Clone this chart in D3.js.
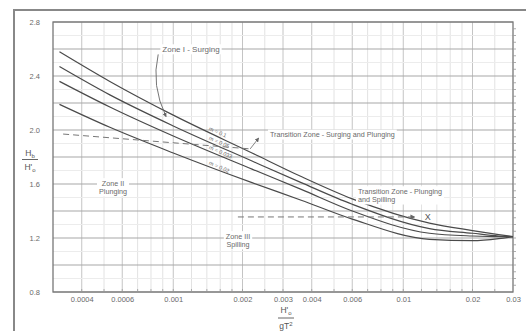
<!DOCTYPE html>
<html><head><meta charset="utf-8">
<script src="https://cdn.jsdelivr.net/npm/d3@7"></script>
<style>html,body{margin:0;padding:0;background:#fff;}svg{display:block;}</style>
</head><body>
<svg id="c" width="526" height="331"></svg>
<script>
// ---- data ----
const xTicks = [0.0004, 0.0006, 0.001, 0.002, 0.003, 0.004, 0.006, 0.01, 0.02, 0.03];
const xTickLabels = ["0.0004", "0.0006", "0.001", "0.002", "0.003", "0.004", "0.006", "0.01", "0.02", "0.03"];
const yTicks = [0.8, 1.2, 1.6, 2.0, 2.4, 2.8];
const yTickLabels = ["0.8", "1.2", "1.6", "2.0", "2.4", "2.8"];
const steepness = [0.00032, 0.00053, 0.001, 0.0022, 0.0036, 0.006, 0.013, 0.02, 0.026, 0.03];
const mLabels = ["m = 0.1", "m = 0.05", "m = 0.033", "m = 0.02"];
const index_m1 = [2.58, 2.36, 2.11, 1.83, 1.655, 1.49, 1.31, 1.255, 1.225, 1.21];
const index_m2 = [2.47, 2.26, 2.03, 1.77, 1.61, 1.45, 1.27, 1.235, 1.215, 1.21];
const index_m3 = [2.36, 2.17, 1.955, 1.71, 1.56, 1.40, 1.235, 1.215, 1.21, 1.21];
const index_m4 = [2.19, 2.02, 1.83, 1.61, 1.48, 1.34, 1.19, 1.18, 1.195, 1.21];
const series = [index_m1, index_m2, index_m3, index_m4];

const svg = d3.select("#c");
const W = 526, H = 331;
const x = d3.scaleLog().domain([0.0003, 0.03]).range([53, 513]);
const y = d3.scaleLinear().domain([0.8, 2.8]).range([292, 22]);
const font = "Liberation Sans, Arial, sans-serif";
const tcol = "#6a6a6a";

// outer scan frame
svg.append("path").attr("d", `M14,${H} L14,10 L${W},10`).attr("fill","none").attr("stroke","#888").attr("stroke-width",2);

// vertical grid (log)
const vGrid = [];
[0.0001, 0.001, 0.01].forEach(d => {
  [1,1.2,1.4,1.6,1.8,2,2.5,3,4,5,6,7,8,9].forEach(k => {
    const v = +(d*k).toPrecision(3);
    if (v > 0.0003 && v < 0.03) vGrid.push(v);
  });
});
svg.append("g").selectAll("line").data(vGrid).join("line")
  .attr("x1", d => x(d)).attr("x2", d => x(d)).attr("y1", y(2.8)).attr("y2", y(0.8))
  .attr("stroke", d => xTicks.includes(d) ? "#c4c4c4" : "#e2e2e2").attr("stroke-width", 1);

// horizontal grid
const hGrid = d3.range(0.8, 2.81, 0.2);
const hMinor = d3.range(0.9, 2.8, 0.2);
svg.append("g").selectAll("line").data(hMinor).join("line")
  .attr("x1", x(0.0003)).attr("x2", x(0.03)).attr("y1", d => y(d)).attr("y2", d => y(d))
  .attr("stroke", "#ececec").attr("stroke-width", 1);
svg.append("g").selectAll("line").data(hGrid).join("line")
  .attr("x1", x(0.0003)).attr("x2", x(0.03)).attr("y1", d => y(d)).attr("y2", d => y(d))
  .attr("stroke", "#a8a8a8").attr("stroke-width", 1.1);

// frame
svg.append("rect").attr("x", x(0.0003)).attr("y", y(2.8))
  .attr("width", x(0.03) - x(0.0003)).attr("height", y(0.8) - y(2.8))
  .attr("fill", "none").attr("stroke", "#777").attr("stroke-width", 1.3);

// right side ticks
svg.append("g").selectAll("line").data(d3.range(0.85, 2.8, 0.05)).join("line")
  .attr("x1", x(0.03)).attr("x2", x(0.03) + 3).attr("y1", d => y(d)).attr("y2", d => y(d))
  .attr("stroke", "#999").attr("stroke-width", 0.8);
// bottom minor ticks
svg.append("g").selectAll("line").data(vGrid).join("line")
  .attr("x1", d => x(d)).attr("x2", d => x(d)).attr("y1", y(0.8)).attr("y2", y(0.8) - 3)
  .attr("stroke", "#999").attr("stroke-width", 0.8);

// axes labels
const xa = d3.axisBottom(x).tickValues(xTicks).tickSize(0).tickFormat((d,i) => xTickLabels[i]);
const gx = svg.append("g").attr("transform", `translate(0,${y(0.8)})`).call(xa);
gx.select(".domain").remove();
gx.selectAll("text").attr("font-family", font).attr("font-size", 7.5).attr("fill", tcol).attr("dy", "0.9em");

const ya = d3.axisLeft(y).tickValues(yTicks).tickSize(0).tickFormat((d,i) => yTickLabels[i]);
const gy = svg.append("g").attr("transform", `translate(${x(0.0003) - 10},0)`).call(ya);
gy.select(".domain").remove();
gy.selectAll("text").attr("font-family", font).attr("font-size", 7.5).attr("fill", tcol).attr("dy", "0.32em");

// curves
const line = d3.line().x((d,i) => x(steepness[i])).y(d => y(d)).curve(d3.curveMonotoneX);
svg.append("g").selectAll("path").data(series).join("path")
  .attr("d", d => line(d)).attr("fill", "none").attr("stroke", "#4a4a4a").attr("stroke-width", 1.2);

// curve labels
const labX = 0.00118;
series.forEach((s, i) => {
  const yi = d3.scaleLog().domain(steepness).range(s);
  const px = x(labX) + 18, py = y(yi(labX * 1.2));
  svg.append("text").attr("x", px).attr("y", py - 2)
    .attr("transform", `rotate(24,${px},${py})`)
    .attr("font-family", font).attr("font-size", 5.5).attr("fill", tcol).text(mLabels[i]);
});

// helper: label with white background
function label(lines, cx, cy, size, anchor) {
  const g = svg.append("g");
  const t = g.append("text").attr("font-family", font).attr("font-size", size).attr("fill", tcol)
    .attr("text-anchor", anchor || "middle");
  lines.forEach((l, i) => t.append("tspan").attr("x", cx).attr("y", cy + i * size * 1.15).text(l));
  const b = t.node().getBBox();
  g.insert("rect", "text").attr("x", b.x - 2).attr("y", b.y - 0.5).attr("width", b.width + 4).attr("height", b.height + 1).attr("fill", "#fff");
}
label(["Zone I - Surging"], 191, y(2.6) + 2.8, 8);
label(["Transition Zone - Surging and Plunging"], 270, y(1.97) + 3, 7.2, "start");
label(["Zone II", "Plunging"], 113, y(1.61) + 3, 7.2);
label(["Transition Zone - Plunging", "and Spilling"], 358, y(1.55) + 3, 7.2, "start");
label(["Zone III", "Spilling"], 238, y(1.21) + 2, 7.2);

// transition boundary 1 (dashed) + arrow
svg.append("line").attr("x1", x(0.000332)).attr("y1", y(1.97)).attr("x2", x(0.00216)).attr("y2", y(1.86))
  .attr("stroke", "#777").attr("stroke-width", 1).attr("stroke-dasharray", "6,4");
svg.append("defs").append("marker").attr("id", "ah").attr("viewBox", "0 0 6 6").attr("refX", 5).attr("refY", 3)
  .attr("markerWidth", 5).attr("markerHeight", 5).attr("orient", "auto")
  .append("path").attr("d", "M0,0 L6,3 L0,6 Z").attr("fill", "#666");
svg.append("line").attr("x1", x(0.00216)).attr("y1", y(1.86)).attr("x2", x(0.00235)).attr("y2", y(1.94))
  .attr("stroke", "#777").attr("stroke-width", 0.9).attr("marker-end", "url(#ah)");

// transition boundary 2 (dashed) + X mark
svg.append("line").attr("x1", x(0.00191)).attr("y1", y(1.356)).attr("x2", x(0.0112)).attr("y2", y(1.356))
  .attr("stroke", "#777").attr("stroke-width", 1).attr("stroke-dasharray", "6,4").attr("marker-end", "url(#ah)");
svg.append("text").attr("x", x(0.0124)).attr("y", y(1.356) + 3).attr("font-family", font)
  .attr("font-size", 9).attr("fill", "#555").text("X");

// zone I arrow
const ap = d3.path();
ap.moveTo(x(0.00086), y(2.56));
ap.quadraticCurveTo(x(0.00080), y(2.33), x(0.00093), y(2.10));
svg.append("path").attr("d", ap.toString()).attr("fill", "none").attr("stroke", "#666").attr("stroke-width", 0.9)
  .attr("marker-end", "url(#ah)");

// y title (fraction)
const yt = svg.append("g").attr("font-family", font).attr("fill", "#555").attr("text-anchor", "middle");
yt.append("text").attr("x", 30).attr("y", 156).attr("font-size", 8.5).html('H<tspan font-size="6" dy="2">b</tspan>');
yt.append("line").attr("x1", 22).attr("x2", 38).attr("y1", 159.5).attr("y2", 159.5).attr("stroke", "#666");
yt.append("text").attr("x", 30).attr("y", 170).attr("font-size", 8.5).html("H'<tspan font-size=\"6\" dy=\"2\">o</tspan>");

// x title (fraction)
const xt = svg.append("g").attr("font-family", font).attr("fill", "#555").attr("text-anchor", "middle");
xt.append("text").attr("x", 286).attr("y", 313).attr("font-size", 8.5).html("H'<tspan font-size=\"6\" dy=\"2\">o</tspan>");
xt.append("line").attr("x1", 278).attr("x2", 294).attr("y1", 318).attr("y2", 318).attr("stroke", "#666");
xt.append("text").attr("x", 286).attr("y", 329).attr("font-size", 8.5).html('gT<tspan font-size="6" dy="-3">2</tspan>');
</script>
</body></html>
